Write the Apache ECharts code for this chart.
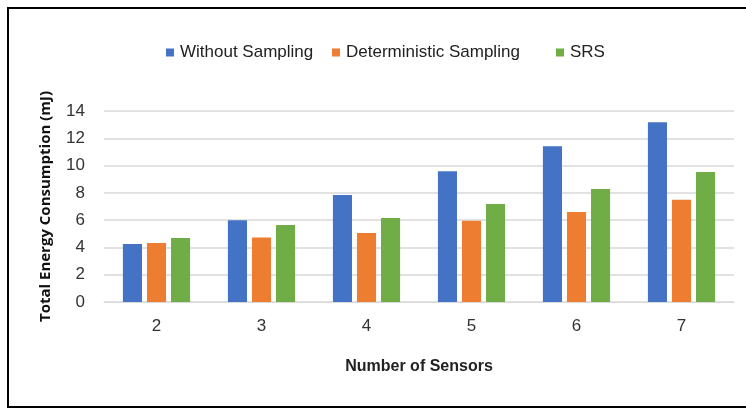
<!DOCTYPE html>
<html>
<head>
<meta charset="utf-8">
<script src="https://cdn.jsdelivr.net/npm/echarts@6/dist/echarts.min.js"></script>
<style>
  html, body { margin: 0; padding: 0; background: #fff; }
  #main { width: 746px; height: 411px; }
</style>
</head>
<body>
<div id="main"></div>
<script>
var sensors = ['2', '3', '4', '5', '6', '7'];
var withoutSampling = [4.26, 6.0, 7.84, 9.59, 11.42, 13.17];
var deterministicSampling = [4.33, 4.72, 5.06, 5.96, 6.6, 7.5];
var srs = [4.69, 5.65, 6.16, 7.18, 8.28, 9.52];
var seriesNames = ['Without Sampling', 'Deterministic Sampling', 'SRS'];

var font = '"Liberation Sans", sans-serif';
var chart = echarts.init(document.getElementById('main'), null, { renderer: 'canvas' });

// one legend per item so each can sit where it does in the picture
var legendLeft = [161, 327, 551];
var legends = seriesNames.map(function (n, i) {
  return {
    top: 39,
    left: legendLeft[i],
    itemWidth: 8,
    itemHeight: 8,
    itemGap: 6,
    icon: 'rect',
    textStyle: { fontFamily: font, fontSize: 17, color: '#222', padding: [0, 0, 0, 1] },
    data: [n]
  };
});

var option = {
  backgroundColor: '#fff',
  color: ['#4472C4', '#ED7D31', '#70AD47'],
  animation: false,
  graphic: [{
    type: 'rect',
    shape: { x: 8, y: 8, width: 760, height: 399 },
    style: { fill: 'none', stroke: '#000', lineWidth: 2 }
  }],
  legend: legends,
  grid: { left: 104, right: 12, top: 111, bottom: 109 },
  xAxis: {
    type: 'category',
    data: sensors,
    name: 'Number of Sensors',
    nameLocation: 'middle',
    nameGap: 57,
    nameTextStyle: { fontFamily: font, fontWeight: 'bold', fontSize: 16, color: '#222' },
    axisLine: { lineStyle: { color: '#D9D9D9' } },
    axisTick: { show: false },
    axisLabel: { fontFamily: font, fontSize: 17, color: '#333', margin: 16 }
  },
  yAxis: {
    type: 'value',
    min: 0,
    max: 14,
    interval: 2,
    name: 'Total Energy Consumption (mJ)',
    nameLocation: 'middle',
    nameGap: 51,
    nameTextStyle: { fontFamily: '"Open Sans", sans-serif', fontWeight: 'bold', fontSize: 15, color: '#111' },
    axisLine: { show: false },
    axisTick: { show: false },
    axisLabel: { fontFamily: font, fontSize: 17, color: '#333', margin: 19 },
    splitLine: { lineStyle: { color: '#D9D9D9', width: 1.5 } }
  },
  series: [
    { name: seriesNames[0], type: 'bar', data: withoutSampling, barGap: '26%', barCategoryGap: '36%' },
    { name: seriesNames[1], type: 'bar', data: deterministicSampling, barGap: '26%', barCategoryGap: '36%' },
    { name: seriesNames[2], type: 'bar', data: srs, barGap: '26%', barCategoryGap: '36%' }
  ]
};

chart.setOption(option);
</script>
</body>
</html>
